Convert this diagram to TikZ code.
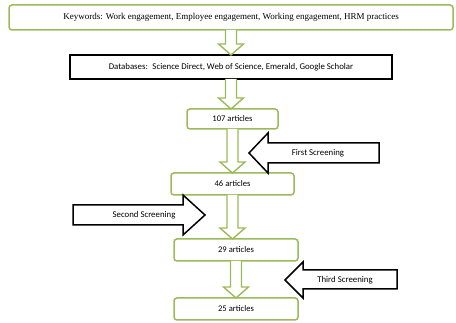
\documentclass[tikz,border=0pt]{standalone}
\usepackage{fontspec}
\setmainfont{Carlito}
\newfontfamily\kwfont{Liberation Serif}
\usetikzlibrary{calc}
\definecolor{olivegreen}{RGB}{155,187,89}
\tikzset{
  stagebox/.style={draw=olivegreen, line width=1.5pt, rounded corners=3pt, fill=white, inner sep=0, outer sep=0, font=\fontsize{8.6}{10}\selectfont},
  dbbox/.style={draw=black, line width=1.6pt, fill=white, inner sep=0, outer sep=0, font=\fontsize{8.8}{10}\selectfont},
  downarrow/.style={draw=olivegreen, line width=1.4pt, fill=white, line join=miter},
  screenarrow/.style={draw=black, line width=1.5pt, fill=white, line join=miter},
  screenlabel/.style={inner sep=0, font=\fontsize{8.8}{10}\selectfont},
}
% hollow green arrow from the bottom of one box to the top of the next
\newcommand\greendown[2]{%
  \draw[downarrow] let \p1=(#1.south), \p2=(#2.north) in
    (\x1-5.5pt,\y1) -- (\x1-5.5pt,\y2+11pt) -- (\x1-12.5pt,\y2+11pt) -- (\x1,\y2)
    -- (\x1+12.5pt,\y2+11pt) -- (\x1+5.5pt,\y2+11pt) -- (\x1+5.5pt,\y1);}
\begin{document}
\begin{tikzpicture}[x=1pt,y=-1pt]
  \useasboundingbox (0,0) rectangle (456,323);

  \node[stagebox, anchor=north west, minimum width=444pt, minimum height=25pt, font=\kwfont\fontsize{9}{10}\selectfont] (keywords) at (9,5) {Keywords: Work engagement, Employee engagement, Working engagement, HRM practices};

  \node[dbbox, anchor=north west, minimum width=322pt, minimum height=24pt] (databases) at (70,55) {Databases: \ Science Direct, Web of Science, Emerald, Google Scholar};

  \node[stagebox, anchor=north west, minimum width=91pt, minimum height=20pt] (art107) at (187,109) {107 articles};
  \node[stagebox, anchor=north west, minimum width=123pt, minimum height=22pt] (art46) at (171,173) {46 articles};
  \node[stagebox, anchor=north west, minimum width=124pt, minimum height=22pt] (art29) at (174,239) {29 articles};
  \node[stagebox, anchor=north west, minimum width=124pt, minimum height=22pt] (art25) at (174,298) {25 articles};

  \greendown{keywords}{databases}
  \greendown{databases}{art107}
  \greendown{art107}{art46}
  \greendown{art46}{art29}
  \greendown{art29}{art25}

  % screening arrows
  \draw[screenarrow] (249,153) -- (268,133) -- (268,143) -- (379,143) -- (379,163) -- (268,163) -- (268,173) -- cycle;
  \node[screenlabel] (first) at (318,153) {First Screening};

  \draw[screenarrow] (205,215) -- (183,195) -- (183,205) -- (73,205) -- (73,225) -- (183,225) -- (183,235) -- cycle;
  \node[screenlabel] (second) at (144,215) {Second Screening};

  \draw[screenarrow] (285,280) -- (303,262) -- (303,270) -- (397,270) -- (397,289) -- (303,289) -- (303,298) -- cycle;
  \node[screenlabel] (third) at (345,280) {Third Screening};
\end{tikzpicture}
\end{document}
